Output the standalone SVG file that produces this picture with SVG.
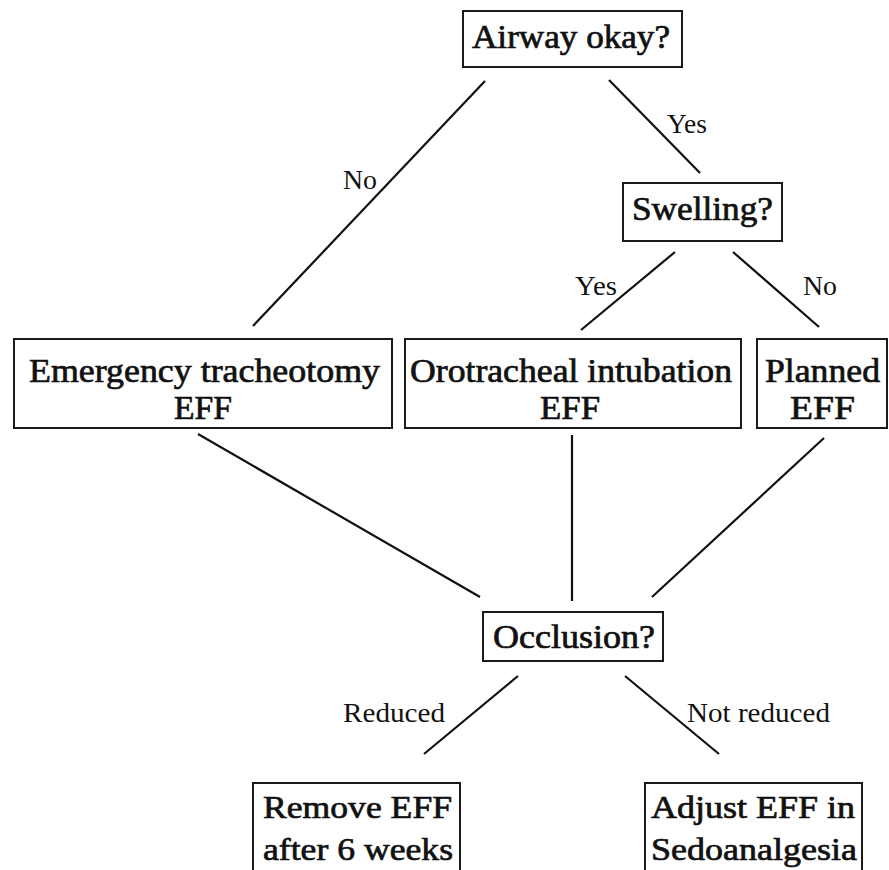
<svg xmlns="http://www.w3.org/2000/svg" width="889" height="870" viewBox="0 0 889 870">
<style>
rect.box{fill:#fff;stroke:#1a1a1a;stroke-width:2}
text.n{font-family:"Liberation Serif","DejaVu Serif",serif;fill:#111;stroke:#111;stroke-width:0.7}
text.l{font-family:"Liberation Serif","DejaVu Serif",serif;font-size:27px;fill:#111}
#connectors line{stroke:#111;stroke-width:2.2}
</style>
<rect width="889" height="870" fill="#fff"/>
<g id="connectors">
<line x1="485" y1="81" x2="253" y2="326"/>
<line x1="609" y1="80" x2="700" y2="173"/>
<line x1="675" y1="252" x2="581" y2="330"/>
<line x1="733" y1="252" x2="819" y2="327"/>
<line x1="198" y1="434" x2="480" y2="597"/>
<line x1="572" y1="435" x2="572" y2="601"/>
<line x1="824" y1="438" x2="652" y2="597"/>
<line x1="518" y1="676" x2="424" y2="754"/>
<line x1="625" y1="676" x2="719" y2="754"/>
<text class="l" x="343" y="189" textLength="34" lengthAdjust="spacingAndGlyphs">No</text>
<text class="l" x="667" y="133" textLength="40" lengthAdjust="spacingAndGlyphs">Yes</text>
<text class="l" x="575" y="295" textLength="42" lengthAdjust="spacingAndGlyphs">Yes</text>
<text class="l" x="803" y="295" textLength="34" lengthAdjust="spacingAndGlyphs">No</text>
<text class="l" x="343" y="722" textLength="102" lengthAdjust="spacingAndGlyphs">Reduced</text>
<text class="l" x="687" y="722" textLength="143" lengthAdjust="spacingAndGlyphs">Not reduced</text>
</g>
<g id="airway">
<rect class="box" x="463" y="11" width="219" height="56"/>
<text class="n" x="472" y="48" font-size="33" textLength="198" lengthAdjust="spacingAndGlyphs">Airway okay?</text>
</g>
<g id="swelling">
<rect class="box" x="623" y="183" width="159" height="58"/>
<text class="n" x="632" y="220" font-size="33" textLength="141" lengthAdjust="spacingAndGlyphs">Swelling?</text>
</g>
<g id="tracheotomy">
<rect class="box" x="14" y="339" width="378" height="89"/>
<text class="n" font-size="33"><tspan x="29" y="382" textLength="351" lengthAdjust="spacingAndGlyphs">Emergency tracheotomy</tspan><tspan x="174" y="419" textLength="58" lengthAdjust="spacingAndGlyphs">EFF</tspan></text>
</g>
<g id="intubation">
<rect class="box" x="405" y="339" width="336" height="89"/>
<text class="n" font-size="33"><tspan x="410" y="382" textLength="322" lengthAdjust="spacingAndGlyphs">Orotracheal intubation</tspan><tspan x="540" y="419" textLength="60" lengthAdjust="spacingAndGlyphs">EFF</tspan></text>
</g>
<g id="planned">
<rect class="box" x="757" y="339" width="130" height="89"/>
<text class="n" font-size="33"><tspan x="765" y="382" textLength="115" lengthAdjust="spacingAndGlyphs">Planned</tspan><tspan x="790" y="419" textLength="65" lengthAdjust="spacingAndGlyphs">EFF</tspan></text>
</g>
<g id="occlusion">
<rect class="box" x="483" y="612" width="180" height="49"/>
<text class="n" x="493" y="648" font-size="33" textLength="162" lengthAdjust="spacingAndGlyphs">Occlusion?</text>
</g>
<g id="remove">
<rect class="box" x="253" y="783" width="207" height="100"/>
<text class="n" font-size="32"><tspan x="263" y="818" textLength="189" lengthAdjust="spacingAndGlyphs">Remove EFF</tspan><tspan x="263" y="860" textLength="190" lengthAdjust="spacingAndGlyphs">after 6 weeks</tspan></text>
</g>
<g id="adjust">
<rect class="box" x="645" y="783" width="217" height="100"/>
<text class="n" font-size="32"><tspan x="651" y="818" textLength="204" lengthAdjust="spacingAndGlyphs">Adjust EFF in</tspan><tspan x="651" y="860" textLength="206" lengthAdjust="spacingAndGlyphs">Sedoanalgesia</tspan></text>
</g>
</svg>
